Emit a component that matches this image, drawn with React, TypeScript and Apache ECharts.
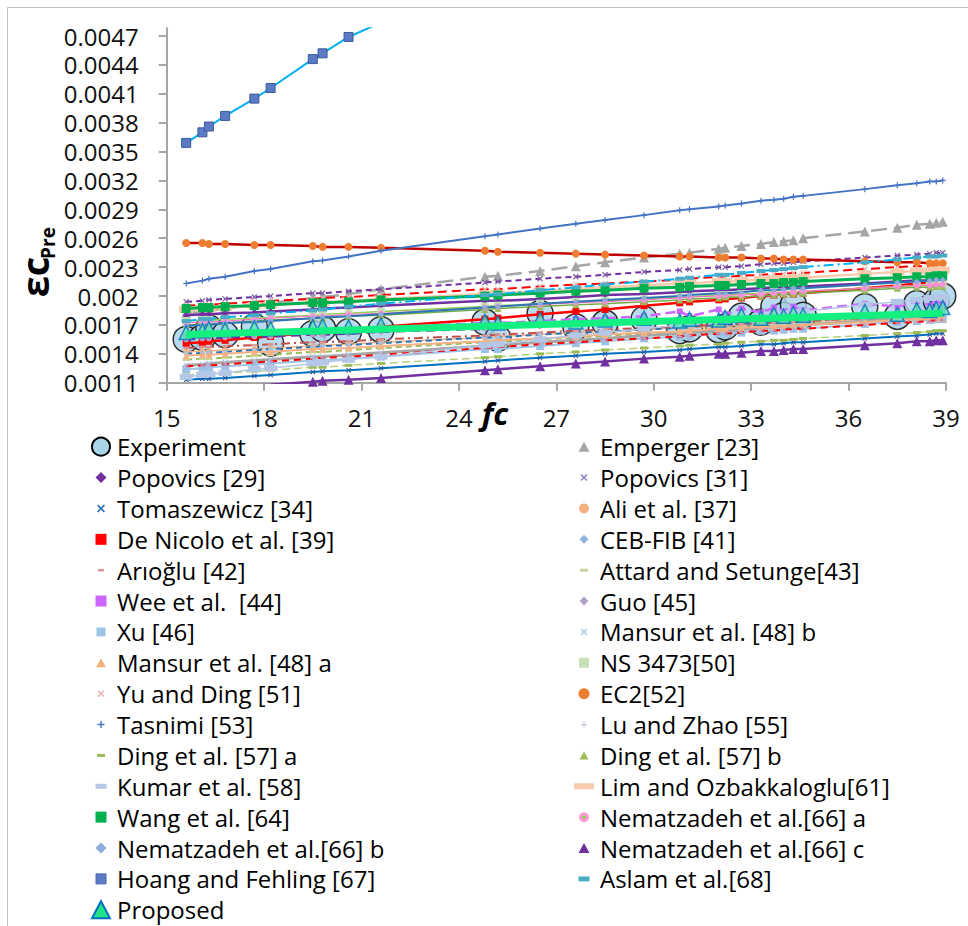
import React, { useEffect, useRef } from "react";
import * as echarts from "echarts";

// compressive strength fc (MPa) of the tested specimens
const fc = [15.6, 16.1, 16.3, 16.8, 17.7, 18.2, 19.5, 19.8, 20.6, 21.6, 24.8, 25.2, 26.5, 27.6, 28.5, 29.7, 30.8, 31.1, 32.0, 32.2, 32.7, 33.3, 33.7, 34.0, 34.3, 34.6, 36.5, 37.5, 38.1, 38.5, 38.7, 38.9];

// peak strains, in units of 1e-3
const experiment = [1.55, 1.57, 1.67, 1.60, 1.68, 1.51, 1.61, 1.66, 1.63, 1.65, 1.73, 1.56, 1.82, 1.68, 1.72, 1.76, 1.64, 1.66, 1.65, 1.68, 1.79, 1.73, 1.89, 1.80, 1.91, 1.80, 1.89, 1.79, 1.92, 1.88, 1.95, 2.00];
const emperger = [1.82, 1.84, 1.85, 1.87, 1.91, 1.93, 1.98, 1.99, 2.02, 2.07, 2.20, 2.21, 2.26, 2.31, 2.35, 2.40, 2.44, 2.45, 2.49, 2.50, 2.52, 2.54, 2.56, 2.57, 2.58, 2.60, 2.67, 2.71, 2.74, 2.75, 2.76, 2.77];
const popovics29 = [1.80, 1.81, 1.81, 1.82, 1.83, 1.84, 1.86, 1.87, 1.88, 1.90, 1.95, 1.95, 1.97, 1.99, 2.01, 2.02, 2.04, 2.05, 2.06, 2.06, 2.07, 2.08, 2.09, 2.09, 2.10, 2.10, 2.13, 2.15, 2.16, 2.16, 2.17, 2.17];
const popovics31 = [1.94, 1.95, 1.96, 1.97, 1.99, 2.00, 2.03, 2.03, 2.05, 2.07, 2.14, 2.15, 2.18, 2.20, 2.22, 2.25, 2.27, 2.28, 2.30, 2.30, 2.31, 2.33, 2.34, 2.34, 2.35, 2.36, 2.40, 2.42, 2.43, 2.44, 2.45, 2.45];
const tomaszewicz = [1.13, 1.14, 1.14, 1.15, 1.17, 1.18, 1.21, 1.22, 1.23, 1.25, 1.32, 1.33, 1.36, 1.38, 1.40, 1.42, 1.44, 1.45, 1.47, 1.47, 1.48, 1.50, 1.50, 1.51, 1.52, 1.52, 1.56, 1.58, 1.59, 1.60, 1.61, 1.61];
const ali = [1.42, 1.43, 1.43, 1.44, 1.45, 1.46, 1.48, 1.49, 1.50, 1.52, 1.57, 1.58, 1.60, 1.62, 1.63, 1.65, 1.67, 1.67, 1.69, 1.69, 1.70, 1.71, 1.72, 1.72, 1.73, 1.73, 1.76, 1.78, 1.79, 1.79, 1.80, 1.80];
const deNicolo = [1.51, 1.52, 1.53, 1.54, 1.57, 1.58, 1.62, 1.63, 1.65, 1.68, 1.76, 1.77, 1.81, 1.84, 1.86, 1.90, 1.93, 1.94, 1.96, 1.97, 1.98, 2.00, 2.01, 2.02, 2.02, 2.03, 2.08, 2.11, 2.13, 2.14, 2.14, 2.15];
const cebFib = [1.40, 1.41, 1.41, 1.42, 1.44, 1.45, 1.47, 1.48, 1.49, 1.51, 1.57, 1.57, 1.60, 1.62, 1.63, 1.65, 1.67, 1.68, 1.70, 1.70, 1.71, 1.72, 1.73, 1.73, 1.74, 1.74, 1.78, 1.80, 1.81, 1.81, 1.82, 1.82];
const arioglu = [1.46, 1.47, 1.47, 1.48, 1.49, 1.50, 1.52, 1.52, 1.53, 1.55, 1.59, 1.60, 1.62, 1.64, 1.65, 1.67, 1.68, 1.69, 1.70, 1.70, 1.71, 1.72, 1.72, 1.73, 1.73, 1.74, 1.77, 1.78, 1.79, 1.79, 1.80, 1.80];
const attard = [1.34, 1.35, 1.35, 1.36, 1.38, 1.39, 1.42, 1.42, 1.44, 1.46, 1.52, 1.53, 1.55, 1.57, 1.59, 1.61, 1.63, 1.64, 1.66, 1.66, 1.67, 1.68, 1.69, 1.70, 1.70, 1.71, 1.74, 1.76, 1.78, 1.78, 1.79, 1.79];
const wee = [1.58, 1.59, 1.59, 1.60, 1.61, 1.62, 1.64, 1.64, 1.66, 1.67, 1.72, 1.72, 1.74, 1.76, 1.77, 1.79, 1.84, 1.79, 1.86, 1.81, 1.87, 1.83, 1.88, 1.84, 1.89, 1.85, 1.92, 1.89, 1.95, 1.90, 1.96, 1.91];
const guo = [1.55, 1.56, 1.56, 1.57, 1.58, 1.58, 1.60, 1.60, 1.61, 1.63, 1.66, 1.67, 1.69, 1.70, 1.71, 1.73, 1.74, 1.74, 1.75, 1.76, 1.76, 1.77, 1.78, 1.78, 1.78, 1.79, 1.81, 1.82, 1.83, 1.84, 1.84, 1.84];
const xu = [1.24, 1.25, 1.26, 1.27, 1.29, 1.30, 1.33, 1.33, 1.35, 1.37, 1.45, 1.45, 1.48, 1.51, 1.53, 1.56, 1.58, 1.59, 1.61, 1.61, 1.62, 1.64, 1.64, 1.65, 1.66, 1.66, 1.71, 1.73, 1.74, 1.75, 1.76, 1.76];
const mansurB = [1.28, 1.29, 1.30, 1.31, 1.33, 1.34, 1.37, 1.37, 1.39, 1.41, 1.48, 1.49, 1.52, 1.54, 1.56, 1.59, 1.61, 1.62, 1.64, 1.64, 1.65, 1.67, 1.68, 1.68, 1.69, 1.70, 1.74, 1.76, 1.77, 1.78, 1.79, 1.79];
const mansurA = [1.38, 1.39, 1.39, 1.40, 1.42, 1.42, 1.45, 1.45, 1.46, 1.48, 1.53, 1.54, 1.56, 1.58, 1.60, 1.62, 1.63, 1.64, 1.66, 1.66, 1.67, 1.68, 1.68, 1.69, 1.69, 1.70, 1.73, 1.75, 1.76, 1.76, 1.77, 1.77];
const ns3473 = [1.74, 1.75, 1.75, 1.76, 1.77, 1.78, 1.80, 1.81, 1.82, 1.84, 1.89, 1.90, 1.92, 1.94, 1.95, 1.97, 1.99, 1.99, 2.01, 2.01, 2.02, 2.03, 2.04, 2.04, 2.05, 2.05, 2.08, 2.10, 2.11, 2.11, 2.12, 2.12];
const yuDing = [1.90, 1.91, 1.91, 1.92, 1.94, 1.95, 1.97, 1.98, 1.99, 2.01, 2.07, 2.07, 2.10, 2.12, 2.13, 2.15, 2.17, 2.18, 2.20, 2.20, 2.21, 2.22, 2.23, 2.23, 2.24, 2.24, 2.28, 2.30, 2.31, 2.31, 2.32, 2.32];
const ec2 = [2.55, 2.55, 2.54, 2.54, 2.53, 2.53, 2.52, 2.51, 2.51, 2.50, 2.47, 2.46, 2.45, 2.44, 2.43, 2.42, 2.41, 2.41, 2.40, 2.40, 2.40, 2.39, 2.39, 2.38, 2.38, 2.38, 2.36, 2.35, 2.35, 2.34, 2.34, 2.34];
const tasnimi = [2.13, 2.16, 2.18, 2.20, 2.26, 2.28, 2.36, 2.37, 2.41, 2.47, 2.62, 2.64, 2.70, 2.75, 2.79, 2.84, 2.89, 2.90, 2.93, 2.94, 2.96, 2.99, 3.00, 3.01, 3.03, 3.04, 3.11, 3.15, 3.17, 3.19, 3.19, 3.20];
const luZhao = [1.27, 1.28, 1.28, 1.29, 1.31, 1.32, 1.35, 1.36, 1.37, 1.39, 1.46, 1.47, 1.50, 1.52, 1.54, 1.56, 1.58, 1.59, 1.61, 1.61, 1.62, 1.64, 1.64, 1.65, 1.66, 1.66, 1.70, 1.72, 1.73, 1.74, 1.75, 1.75];
const dingA = [1.18, 1.19, 1.19, 1.20, 1.22, 1.23, 1.26, 1.26, 1.28, 1.30, 1.36, 1.37, 1.40, 1.42, 1.44, 1.46, 1.48, 1.49, 1.50, 1.51, 1.52, 1.53, 1.54, 1.54, 1.55, 1.56, 1.59, 1.61, 1.62, 1.63, 1.64, 1.64];
const dingB = [1.70, 1.71, 1.71, 1.72, 1.74, 1.75, 1.77, 1.77, 1.79, 1.80, 1.86, 1.87, 1.89, 1.91, 1.92, 1.94, 1.96, 1.97, 1.98, 1.99, 1.99, 2.00, 2.01, 2.02, 2.02, 2.03, 2.06, 2.08, 2.09, 2.09, 2.10, 2.10];
const kumar = [1.16, 1.18, 1.19, 1.20, 1.24, 1.25, 1.30, 1.31, 1.34, 1.37, 1.49, 1.50, 1.55, 1.59, 1.62, 1.66, 1.70, 1.71, 1.74, 1.75, 1.77, 1.79, 1.81, 1.82, 1.83, 1.84, 1.91, 1.94, 1.96, 1.98, 1.98, 1.99];
const lim = [1.86, 1.87, 1.87, 1.88, 1.90, 1.91, 1.93, 1.93, 1.95, 1.97, 2.02, 2.03, 2.05, 2.07, 2.09, 2.11, 2.13, 2.13, 2.15, 2.15, 2.16, 2.17, 2.18, 2.18, 2.19, 2.19, 2.23, 2.25, 2.26, 2.26, 2.27, 2.27];
const wang = [1.87, 1.88, 1.88, 1.89, 1.90, 1.91, 1.93, 1.93, 1.94, 1.96, 2.00, 2.01, 2.03, 2.05, 2.06, 2.08, 2.09, 2.10, 2.11, 2.11, 2.12, 2.13, 2.13, 2.14, 2.14, 2.15, 2.18, 2.19, 2.20, 2.20, 2.21, 2.21];
const nemA = [1.72, 1.73, 1.73, 1.74, 1.76, 1.77, 1.79, 1.79, 1.81, 1.82, 1.88, 1.89, 1.91, 1.93, 1.94, 1.96, 1.98, 1.99, 2.00, 2.01, 2.01, 2.02, 2.03, 2.04, 2.04, 2.05, 2.08, 2.10, 2.11, 2.11, 2.12, 2.12];
const nemB = [1.69, 1.70, 1.70, 1.72, 1.73, 1.74, 1.77, 1.78, 1.79, 1.81, 1.88, 1.89, 1.92, 1.94, 1.96, 1.98, 2.00, 2.01, 2.03, 2.03, 2.04, 2.06, 2.06, 2.07, 2.08, 2.08, 2.12, 2.14, 2.15, 2.16, 2.17, 2.17];
const nemC = [1.02, 1.03, 1.04, 1.05, 1.07, 1.08, 1.11, 1.12, 1.13, 1.15, 1.23, 1.24, 1.27, 1.30, 1.32, 1.35, 1.37, 1.38, 1.40, 1.40, 1.41, 1.43, 1.43, 1.44, 1.45, 1.45, 1.49, 1.51, 1.53, 1.53, 1.54, 1.54];
const hoang = [3.59, 3.70, 3.76, 3.87, 4.05, 4.16, 4.46, 4.52, 4.69, 4.84, 5.55, 5.63, 5.87, 6.07, 6.23, 6.44, 6.62, 6.67, 6.82, 6.85, 6.93, 7.03, 7.09, 7.14, 7.19, 7.23, 7.52, 7.67, 7.76, 7.82, 7.85, 7.88];
const aslam = [1.74, 1.76, 1.76, 1.78, 1.80, 1.82, 1.85, 1.86, 1.89, 1.92, 2.01, 2.02, 2.06, 2.09, 2.12, 2.15, 2.18, 2.19, 2.22, 2.22, 2.24, 2.26, 2.27, 2.28, 2.29, 2.30, 2.35, 2.38, 2.40, 2.41, 2.41, 2.42];
const proposed = [1.62, 1.64, 1.66, 1.65, 1.67, 1.66, 1.68, 1.69, 1.68, 1.70, 1.74, 1.72, 1.76, 1.73, 1.75, 1.77, 1.74, 1.76, 1.75, 1.78, 1.80, 1.77, 1.81, 1.79, 1.82, 1.80, 1.84, 1.81, 1.86, 1.85, 1.87, 1.88];
const proposedTrendFc = [15.6, 38.9];
const proposedTrend = [1.60, 1.82];

const yTicks = [1.1, 1.4, 1.7, 2.0, 2.3, 2.6, 2.9, 3.2, 3.5, 3.8, 4.1, 4.4, 4.7];

const legendLeft = ["Experiment", "Popovics [29]", "Tomaszewicz [34]", "De Nicolo et al. [39]", "Arıoğlu [42]", "Wee et al.  [44]", "Xu [46]", "Mansur et al. [48] a", "Yu and Ding [51]", "Tasnimi [53]", "Ding et al. [57] a", "Kumar et al. [58]", "Wang et al. [64]", "Nematzadeh et al.[66] b", "Hoang and Fehling [67]", "Proposed"];
const legendRight = ["Emperger [23]", "Popovics [31]", "Ali et al. [37]", "CEB-FIB [41]", "Attard and Setunge[43]", "Guo [45]", "Mansur et al. [48] b", "NS 3473[50]", "EC2[52]", "Lu and Zhao [55]", "Ding et al. [57] b", "Lim and Ozbakkaloglu[61]", "Nematzadeh et al.[66] a", "Nematzadeh et al.[66] c", "Aslam et al.[68]"];

const X_SYM = "path://M0,1.5L1.5,0L5,3.5L8.5,0L10,1.5L6.5,5L10,8.5L8.5,10L5,6.5L1.5,10L0,8.5L3.5,5Z";
const PLUS_SYM = "path://M4,0L6,0L6,4L10,4L10,6L6,6L6,10L4,10L4,6L0,6L0,4L4,4Z";
const X_PTS = [[0, 1.5], [1.5, 0], [5, 3.5], [8.5, 0], [10, 1.5], [6.5, 5], [10, 8.5], [8.5, 10], [5, 6.5], [1.5, 10], [0, 8.5], [3.5, 5]];
const PLUS_PTS = [[4, 0], [6, 0], [6, 4], [10, 4], [10, 6], [6, 6], [6, 10], [4, 10], [4, 6], [0, 6], [0, 4], [4, 4]];

type Model = {
  name: string;
  values: number[];
  symbol: string;
  size: number | number[];
  color: string;
  border?: string;
  line: { color: string; width: number; type: any };
};

const models: Model[] = [
  { name: "Emperger [23]", values: emperger, symbol: "triangle", size: 10, color: "#a5a5a5", line: { color: "#a6a6a6", width: 2.5, type: [16, 7] } },
  { name: "Popovics [29]", values: popovics29, symbol: "diamond", size: 7, color: "#7030a0", line: { color: "#7030a0", width: 2.5, type: "solid" } },
  { name: "Popovics [31]", values: popovics31, symbol: X_SYM, size: 6, color: "#8064a2", line: { color: "#7030a0", width: 2, type: [6, 4] } },
  { name: "Tomaszewicz [34]", values: tomaszewicz, symbol: X_SYM, size: 5, color: "#2f5597", line: { color: "#0070c0", width: 2, type: "solid" } },
  { name: "Ali et al. [37]", values: ali, symbol: "circle", size: 6, color: "#f4b183", line: { color: "#f4b183", width: 1.5, type: "solid" } },
  { name: "De Nicolo et al. [39]", values: deNicolo, symbol: "rect", size: 7, color: "#ff0000", line: { color: "#ff0000", width: 2.5, type: "solid" } },
  { name: "CEB-FIB [41]", values: cebFib, symbol: "diamond", size: 6, color: "#9dc3e6", line: { color: "#2e75b6", width: 2, type: [6, 4] } },
  { name: "Arıoğlu [42]", values: arioglu, symbol: "rect", size: [6, 2], color: "#d99694", line: { color: "#c0504d", width: 2, type: [9, 4, 2, 4] } },
  { name: "Attard and Setunge[43]", values: attard, symbol: "rect", size: [7, 3], color: "#c3d69b", line: { color: "#9bbb59", width: 2, type: [6, 4] } },
  { name: "Wee et al.  [44]", values: wee, symbol: "rect", size: 6, color: "#cc66ff", line: { color: "#cc66ff", width: 2.5, type: [10, 5] } },
  { name: "Guo [45]", values: guo, symbol: "circle", size: 6, color: "#b3a2c7", line: { color: "#7030a0", width: 2.5, type: [9, 6] } },
  { name: "Xu [46]", values: xu, symbol: "rect", size: 8, color: "#9dc3e6", line: { color: "#9dc3e6", width: 2, type: "solid" } },
  { name: "Mansur et al. [48] b", values: mansurB, symbol: X_SYM, size: 6, color: "#b4c7e7", line: { color: "#a6a6a6", width: 3, type: "solid" } },
  { name: "Mansur et al. [48] a", values: mansurA, symbol: "triangle", size: 7, color: "#f4b183", line: { color: "#f4b183", width: 2, type: "solid" } },
  { name: "NS 3473[50]", values: ns3473, symbol: "rect", size: 8, color: "#c5e0b4", line: { color: "#92d050", width: 1.5, type: "solid" } },
  { name: "Yu and Ding [51]", values: yuDing, symbol: X_SYM, size: 6, color: "#e6b9b8", line: { color: "#ff0000", width: 2, type: [9, 5] } },
  { name: "EC2[52]", values: ec2, symbol: "circle", size: 8, color: "#ed7d31", line: { color: "#c00000", width: 2.5, type: "solid" } },
  { name: "Tasnimi [53]", values: tasnimi, symbol: PLUS_SYM, size: 6, color: "#4472c4", line: { color: "#4472c4", width: 2, type: "solid" } },
  { name: "Lu and Zhao [55]", values: luZhao, symbol: PLUS_SYM, size: 5, color: "#b4a7d6", line: { color: "#ff0000", width: 2, type: [7, 5] } },
  { name: "Ding et al. [57] a", values: dingA, symbol: "rect", size: [8, 3], color: "#9bbb59", line: { color: "#b5cf7a", width: 1.5, type: [8, 4] } },
  { name: "Ding et al. [57] b", values: dingB, symbol: "triangle", size: 7, color: "#9bbb59", line: { color: "#70ad47", width: 1.5, type: "solid" } },
  { name: "Kumar et al. [58]", values: kumar, symbol: "rect", size: [13, 6], color: "#b4c7e7", line: { color: "#b4c7e7", width: 1.5, type: "solid" } },
  { name: "Lim and Ozbakkaloglu[61]", values: lim, symbol: "rect", size: [14, 7], color: "#f8cbad", line: { color: "#f8cbad", width: 2.5, type: "solid" } },
  { name: "Wang et al. [64]", values: wang, symbol: "rect", size: 9, color: "#00b050", line: { color: "#00b050", width: 3, type: "solid" } },
  { name: "Nematzadeh et al.[66] a", values: nemA, symbol: "circle", size: 6, color: "#ff8fd8", line: { color: "#ff66cc", width: 1, type: "solid" } },
  { name: "Nematzadeh et al.[66] b", values: nemB, symbol: "diamond", size: 6, color: "#8ea9db", line: { color: "#2e75b6", width: 2, type: "solid" } },
  { name: "Nematzadeh et al.[66] c", values: nemC, symbol: "triangle", size: 10, color: "#7030a0", line: { color: "#7030a0", width: 2.5, type: "solid" } },
  { name: "Hoang and Fehling [67]", values: hoang, symbol: "rect", size: 9, color: "#5b7bc6", border: "#3d5a99", line: { color: "#00b0f0", width: 2, type: "solid" } },
  { name: "Aslam et al.[68]", values: aslam, symbol: "rect", size: [9, 4], color: "#4bacc6", line: { color: "#00b0f0", width: 2, type: [10, 4, 2, 4] } },
];

type Icon = { shape: string; w?: number; h?: number; r?: number; fill: string; stroke?: string; lw?: number; dot?: string };

const legendIcons: Record<string, Icon> = {
  "Experiment": { shape: "circle", r: 9, fill: "#a9d4ea", stroke: "#000", lw: 2 },
  "Popovics [29]": { shape: "diamond", w: 11, h: 11, fill: "#7030a0" },
  "Tomaszewicz [34]": { shape: "x", w: 8, fill: "#2e75b6" },
  "De Nicolo et al. [39]": { shape: "rect", w: 11, h: 11, fill: "#ff0000" },
  "Arıoğlu [42]": { shape: "rect", w: 6, h: 2.5, fill: "#d99694" },
  "Wee et al.  [44]": { shape: "rect", w: 11, h: 11, fill: "#cc66ff" },
  "Xu [46]": { shape: "rect", w: 9, h: 9, fill: "#9dc3e6" },
  "Mansur et al. [48] a": { shape: "triangle", w: 10, h: 9, fill: "#f4b183" },
  "Yu and Ding [51]": { shape: "x", w: 7, fill: "#e6b9b8" },
  "Tasnimi [53]": { shape: "plus", w: 7, fill: "#4472c4" },
  "Ding et al. [57] a": { shape: "rect", w: 8, h: 3, fill: "#9bbb59" },
  "Kumar et al. [58]": { shape: "rect", w: 11, h: 5, fill: "#b4c7e7" },
  "Wang et al. [64]": { shape: "rect", w: 11, h: 11, fill: "#00b050" },
  "Nematzadeh et al.[66] b": { shape: "diamond", w: 11, h: 11, fill: "#8ea9db" },
  "Hoang and Fehling [67]": { shape: "rect", w: 10, h: 10, fill: "#5b7bc6", stroke: "#4a69a8", lw: 1 },
  "Proposed": { shape: "triangle", w: 18, h: 17, fill: "#21e38a", stroke: "#0070c0", lw: 2 },
  "Emperger [23]": { shape: "triangle", w: 11, h: 10, fill: "#a5a5a5" },
  "Popovics [31]": { shape: "x", w: 7, fill: "#8e7cc3" },
  "Ali et al. [37]": { shape: "circle", r: 5, fill: "#f4b183" },
  "CEB-FIB [41]": { shape: "diamond", w: 9, h: 9, fill: "#8db3e2" },
  "Attard and Setunge[43]": { shape: "rect", w: 8, h: 3, fill: "#c3d69b" },
  "Guo [45]": { shape: "diamond", w: 9, h: 9, fill: "#b3a2c7" },
  "Mansur et al. [48] b": { shape: "x", w: 7, fill: "#b4c7e7" },
  "NS 3473[50]": { shape: "rect", w: 10, h: 10, fill: "#c5e0b4" },
  "EC2[52]": { shape: "circle", r: 5.5, fill: "#ed7d31" },
  "Lu and Zhao [55]": { shape: "plus", w: 6, fill: "#ccc1da" },
  "Ding et al. [57] b": { shape: "triangle", w: 9, h: 8, fill: "#9bbb59" },
  "Lim and Ozbakkaloglu[61]": { shape: "rect", w: 20, h: 6, fill: "#f8cbad" },
  "Nematzadeh et al.[66] a": { shape: "circle", r: 5, fill: "#ff99dd", dot: "#92d050" },
  "Nematzadeh et al.[66] c": { shape: "triangle", w: 11, h: 10, fill: "#7030a0" },
  "Aslam et al.[68]": { shape: "rect", w: 11, h: 5, fill: "#4bacc6" },
};

const FONT = "Open Sans";

function iconEls(ic: Icon, cx: number, cy: number): any[] {
  const style: any = { fill: ic.fill, stroke: ic.stroke || null, lineWidth: ic.lw || 0 };
  const w = ic.w || 10;
  const h = ic.h || w;
  const out: any[] = [];
  if (ic.shape === "circle") {
    out.push({ type: "circle", shape: { cx, cy, r: ic.r }, style });
    if (ic.dot) out.push({ type: "circle", shape: { cx, cy, r: 2 }, style: { fill: ic.dot } });
  } else if (ic.shape === "rect") {
    out.push({ type: "rect", shape: { x: cx - w / 2, y: cy - h / 2, width: w, height: h }, style });
  } else if (ic.shape === "triangle") {
    out.push({ type: "polygon", shape: { points: [[cx, cy - h / 2], [cx + w / 2, cy + h / 2], [cx - w / 2, cy + h / 2]] }, style });
  } else if (ic.shape === "diamond") {
    out.push({ type: "polygon", shape: { points: [[cx, cy - h / 2], [cx + w / 2, cy], [cx, cy + h / 2], [cx - w / 2, cy]] }, style });
  } else {
    const base = ic.shape === "x" ? X_PTS : PLUS_PTS;
    out.push({ type: "polygon", shape: { points: base.map(([px, py]) => [cx - w / 2 + (px * w) / 10, cy - w / 2 + (py * w) / 10]) }, style });
  }
  return out;
}

function buildOption() {
  const pair = (vals: number[], xs: number[] = fc) => xs.map((x, i) => [x, vals[i]]);
  const series: any[] = [];
  series.push({
    type: "scatter",
    name: "Experiment",
    data: pair(experiment),
    symbol: "circle",
    symbolSize: 26,
    itemStyle: { color: "#a9d2e8", borderColor: "#000", borderWidth: 1.5 },
    z: 1,
  });
  models.forEach((m, k) => {
    series.push({
      type: "line",
      name: m.name,
      data: pair(m.values),
      symbol: m.symbol,
      symbolSize: m.size,
      showSymbol: true,
      itemStyle: { color: m.color, borderColor: m.border || m.color, borderWidth: m.border ? 1 : 0 },
      lineStyle: { color: m.line.color, width: m.line.width, type: m.line.type },
      z: 2 + k * 0.01,
    });
  });
  series.push({
    type: "scatter",
    name: "Proposed",
    data: pair(proposed),
    symbol: "triangle",
    symbolSize: 14,
    itemStyle: { color: "#5fe3b0", borderColor: "#0070c0", borderWidth: 1.5 },
    z: 3,
  });
  series.push({
    type: "line",
    name: "Proposed trend",
    data: pair(proposedTrend, proposedTrendFc),
    showSymbol: false,
    symbol: "none",
    lineStyle: { color: "#13f07f", width: 7 },
    z: 4,
  });
  series.forEach((s) => {
    s.silent = true;
    s.emphasis = { disabled: true };
    s.animation = false;
  });

  const graphic: any[] = [];
  graphic.push({ type: "rect", shape: { x: 7.5, y: 7.5, width: 980, height: 940 }, style: { fill: "none", stroke: "#bfbfbf", lineWidth: 1 }, z: 0, silent: true });
  graphic.push({
    type: "text", x: 34, y: 277, rotation: Math.PI / 2,
    style: { text: "εc", fontSize: 38, fontWeight: "bold", fontFamily: FONT, fill: "#000", align: "center", verticalAlign: "middle", textAlign: "center", textVerticalAlign: "middle" },
    z: 20,
  });
  graphic.push({
    type: "text", x: 48, y: 243, rotation: Math.PI / 2,
    style: { text: "Pre", fontSize: 19, fontWeight: "bold", fontFamily: FONT, fill: "#000", align: "center", verticalAlign: "middle", textAlign: "center", textVerticalAlign: "middle" },
    z: 20,
  });
  graphic.push({
    type: "text", x: 495, y: 413,
    style: { text: "fc", fontSize: 31, fontWeight: "bold", fontStyle: "italic", fontFamily: FONT, fill: "#000", align: "center", verticalAlign: "middle", textAlign: "center", textVerticalAlign: "middle" },
    z: 20,
  });
  const rowY = (k: number) => 446.7 + 30.87 * k;
  const addCol = (names: string[], cx: number, tx: number) => {
    names.forEach((n, k) => {
      const y = rowY(k);
      iconEls(legendIcons[n], cx, y).forEach((el) => graphic.push({ ...el, z: 20, silent: true }));
      graphic.push({
        type: "text", x: tx, y,
        style: { text: n, fontSize: 24, fontFamily: FONT, fill: "#000", align: "left", verticalAlign: "middle", textAlign: "left", textVerticalAlign: "middle" },
        z: 20, silent: true,
      });
    });
  };
  addCol(legendLeft, 101, 117);
  addCol(legendRight, 584, 600);

  const axisColor = "#a6a6a6";
  return {
    animation: false,
    backgroundColor: "#fff",
    textStyle: { fontFamily: FONT },
    grid: { left: 166.7, right: 22, top: 28.3, height: 354.4 },
    xAxis: {
      type: "value", min: 15, max: 39, interval: 3,
      splitLine: { show: false },
      axisLine: { show: true, onZero: false, lineStyle: { color: axisColor, width: 2 } },
      axisTick: { show: true, inside: false, length: 8, lineStyle: { color: axisColor, width: 2 } },
      axisLabel: { fontSize: 24, color: "#111", margin: 23, fontFamily: FONT, lineHeight: 24 },
    },
    yAxis: {
      type: "value", min: 1.1, max: 4.78,
      splitLine: { show: false },
      axisLine: { show: true, onZero: false, lineStyle: { color: axisColor, width: 2 } },
      axisTick: { show: true, inside: false, length: 8, customValues: yTicks, lineStyle: { color: axisColor, width: 2 } },
      axisLabel: {
        fontSize: 24, color: "#111", margin: 28, fontFamily: FONT, lineHeight: 24,
        customValues: yTicks,
        formatter: (v: number) => String(Number((v / 1000).toFixed(4))),
      },
    },
    series,
    graphic,
  };
}

export default function App() {
  const ref = useRef<HTMLDivElement>(null);
  useEffect(() => {
    document.body.style.margin = "0";
    const chart = echarts.init(ref.current as HTMLDivElement, null, { renderer: "svg" });
    chart.setOption(buildOption() as any);
    return () => chart.dispose();
  }, []);
  return <div ref={ref} style={{ width: 968, height: 926 }} />;
}
